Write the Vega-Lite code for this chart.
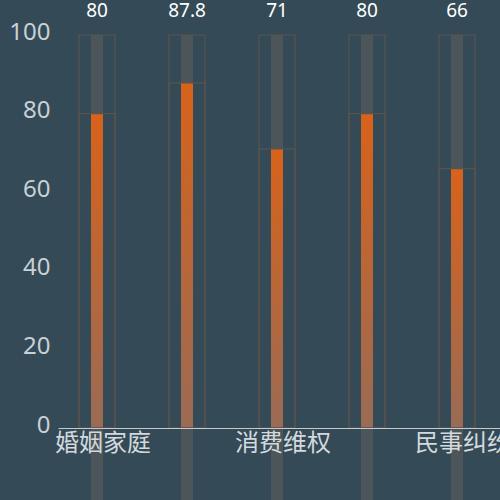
{
  "$schema": "https://vega.github.io/schema/vega-lite/v6.json",
  "width": 442,
  "height": 393,
  "autosize": {"type": "none"},
  "padding": {"left": 58, "top": 35, "right": 0, "bottom": 72},
  "background": "#344a57",
  "view": {"stroke": null},
  "data": {
    "values": [
      {"type": "婚姻家庭", "score": 80},
      {"type": "劳动争议", "score": 87.8},
      {"type": "消费维权", "score": 71},
      {"type": "邻里纠纷", "score": 80},
      {"type": "民事纠纷", "score": 66}
    ]
  },
  "encoding": {
    "x": {
      "field": "type",
      "type": "nominal",
      "sort": null,
      "scale": {"range": [0, 450], "paddingInner": 0, "paddingOuter": 0},
      "axis": {
        "title": null,
        "labelAngle": 0,
        "labelFontSize": 24,
        "labelFont": "Noto Sans CJK SC",
        "labelColor": "#d3d9dc",
        "labelPadding": 3,
        "labelOverlap": "parity",
        "ticks": false,
        "domainColor": "#c3c9cc",
        "domainWidth": 1,
        "zindex": 1
      }
    }
  },
  "layer": [
    {
      "mark": {"type": "bar", "size": 12, "color": "#4b555a", "xOffset": -6},
      "encoding": {
        "y": {
          "datum": 100,
          "type": "quantitative",
          "scale": {"domain": [0, 100]},
          "axis": {
            "title": null,
            "values": [0, 20, 40, 60, 80, 100],
            "grid": false,
            "domain": false,
            "ticks": false,
            "labelFontSize": 24,
            "labelFont": "Noto Sans",
            "labelColor": "#c9d1d5",
            "labelPadding": 8,
            "labelOffset": -3
          }
        },
        "y2": {"datum": -20}
      }
    },
    {
      "mark": {
        "type": "bar",
        "size": 12,
        "xOffset": -6,
        "color": {
          "gradient": "linear",
          "x1": 0, "y1": 0, "x2": 0, "y2": 1,
          "stops": [
            {"offset": 0, "color": "#d8621b"},
            {"offset": 1, "color": "#9a6b55"}
          ]
        }
      },
      "encoding": {
        "y": {"field": "score", "type": "quantitative"},
        "y2": {"datum": 0}
      }
    },
    {
      "mark": {"type": "bar", "size": 36, "xOffset": -6, "fillOpacity": 0, "stroke": "#5a534d", "strokeWidth": 1.2},
      "encoding": {
        "y": {"datum": 100, "type": "quantitative"},
        "y2": {"datum": 0}
      }
    },
    {
      "mark": {"type": "bar", "size": 36, "xOffset": -6, "fillOpacity": 0, "stroke": "#5a534d", "strokeWidth": 1.2},
      "encoding": {
        "y": {"field": "score", "type": "quantitative"},
        "y2": {"datum": 0}
      }
    },
    {
      "mark": {"type": "text", "xOffset": -6, "dy": -18, "baseline": "alphabetic", "fontSize": 19, "font": "Noto Sans", "color": "#ffffff"},
      "encoding": {
        "y": {"datum": 100, "type": "quantitative"},
        "text": {"field": "score", "type": "quantitative"}
      }
    }
  ]
}
